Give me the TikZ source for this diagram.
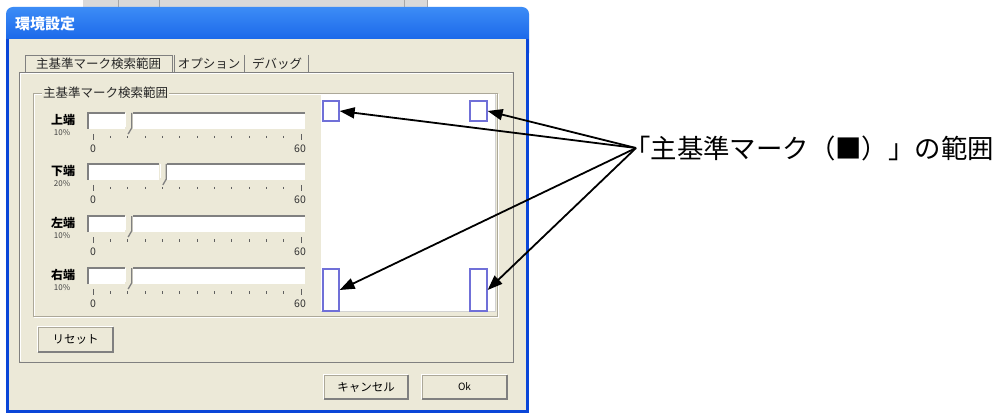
\documentclass[tikz,border=0pt]{standalone}
\usepackage{fontspec}
\newfontfamily\jp{Noto Sans CJK JP}
\usetikzlibrary{arrows.meta,calc}
\definecolor{beige}{HTML}{ECE9D8}
\definecolor{xpblue}{HTML}{0A46D8}
\definecolor{titletop}{HTML}{3C8CF6}
\definecolor{titlebot}{HTML}{0652E2}
\definecolor{markblue}{HTML}{7070D8}
\definecolor{dgray}{HTML}{808080}
\definecolor{lgray}{HTML}{ACA899}
\definecolor{tickgray}{HTML}{606060}
\tikzset{
  uitext/.style={inner sep=0pt, font=\jp\fontsize{12.5}{14}\selectfont, text=black},
  titletext/.style={inner sep=0pt, anchor=west, font=\jp\bfseries\fontsize{15}{17}\selectfont, text=white},
  tabtext/.style={inner sep=0pt, font=\jp\fontsize{12.5}{14}\selectfont, text=black!85},
  rowlabel/.style={inner sep=0pt, font=\jp\bfseries\fontsize{12}{13}\selectfont, text=black},
  pcttext/.style={inner sep=0pt, font=\jp\fontsize{8}{9}\selectfont, text=black!75},
  scaletext/.style={inner sep=0pt, font=\jp\fontsize{10.5}{12}\selectfont, text=black!80},
  markbox/.style={draw=markblue, line width=1.3pt, fill=white, inner sep=0pt},
  btn/.style={fill=beige, draw=lgray, inner sep=0pt, font=\jp\fontsize{11.5}{13}\selectfont},
  arr/.style={line width=1.8pt, -{Triangle[length=15pt,width=11pt]}},
  anno/.style={inner sep=0pt, font=\jp\fontsize{26.4}{30}\selectfont, text=black},
}
\begin{document}
\begin{tikzpicture}[x=1pt,y=-1pt]
\useasboundingbox (0,0) rectangle (995,414);
\fill[white] (0,0) rectangle (995,414);
% remnant of a window behind
\fill[gray!30] (83,0) rectangle (428,7);
\foreach \xx in {118,159,404,427} \draw[gray!70] (\xx,0) -- (\xx,7);

% window frame
\shade[top color=titletop, bottom color=titlebot, rounded corners=7pt] (6,7) rectangle (529,60);
\fill[xpblue] (6,39) rectangle (529,413);
\fill[beige] (9,39) rectangle (526,410);
\node[titletext] (title) at (15,24) {環境設定};

% tab pane
\draw[dgray, fill=beige] (19,72) rectangle (513,362);
\draw[white] (20,73) -- (512,73);
\draw[white] (20,73) -- (20,361);
\node[draw=dgray, fill=beige, minimum width=147pt, minimum height=17pt, inner sep=0pt] (tabbox) at (98.5,63.5) {};
\node[tabtext] (tab1) at (tabbox.center) {主基準マーク検索範囲};
\draw[dgray, line width=1pt] (174,55) -- (174,72);
\node[tabtext] (tab2) at (209,63.5) {オプション};
\draw[dgray, line width=1pt] (244,55) -- (244,72);
\node[tabtext] (tab3) at (277,63.5) {デバッグ};
\draw[dgray, line width=1pt] (308,55) -- (308,72);

% group box
\draw[white] (34,94) rectangle (498,317);
\draw[lgray] (33,93) rectangle (497,316);
\node[tabtext, fill=beige, inner xsep=1pt, anchor=west] (grp) at (42,92.5) {主基準マーク検索範囲};

% preview panel
\fill[white] (321,94) rectangle (495,311);
\draw[gray!35] (495,94) -- (495,311) -- (321,311);
\node[markbox, minimum width=16pt, minimum height=20pt] (sqTL) at (331,111) {};
\node[markbox, minimum width=17pt, minimum height=20pt] (sqTR) at (478.5,111) {};
\node[markbox, minimum width=16pt, minimum height=42pt] (sqBL) at (331,290) {};
\node[markbox, minimum width=17pt, minimum height=42pt] (sqBR) at (478.5,290) {};

% slider rows
\foreach \T/\lab/\pct/\val/\nm in {113/上端/10\%/10/a, 164/下端/20\%/20/b, 216/左端/10\%/10/c, 268/右端/10\%/10/d}{
  \node[rowlabel] (lab\nm) at (63,\T+7) {\lab};
  \node[pcttext] (pct\nm) at (62,\T+19.5) {\pct};
  \fill[white] (88,\T) rectangle (305,\T+16);
  \draw[dgray, line width=1.6pt] (88,\T+16) -- (88,\T) -- (305,\T);
  \pgfmathsetmacro{\tx}{93+\val*208/60}
  \fill[beige] (\tx-3,\T-1) rectangle (\tx+5,\T+16.5);
  \draw[white, line width=1pt] (\tx-2,\T) -- (\tx-2,\T+14);
  \draw[dgray, line width=1.3pt] (\tx+4,\T) -- (\tx+4,\T+15) -- (\tx+0.5,\T+21);
  \foreach \i in {1,...,11}{
    \draw[tickgray, line width=1pt] (93+\i*17.333,\T+23) -- (93+\i*17.333,\T+25.5);
  }
  \draw[tickgray, line width=1pt] (93,\T+21) -- (93,\T+27);
  \draw[tickgray, line width=1pt] (301,\T+21) -- (301,\T+27);
  \node[scaletext] (min\nm) at (93,\T+35.5) {0};
  \node[scaletext] (max\nm) at (300,\T+35.5) {60};
}

% buttons
\node[btn, minimum width=75pt, minimum height=25pt] (reset) at (75.5,339.5) {リセット};
\node[btn, minimum width=84pt, minimum height=24pt] (cancel) at (366,387) {キャンセル};
\node[btn, minimum width=85pt, minimum height=24pt, font=\jp\fontsize{10}{12}\selectfont] (ok) at (464.5,387) {Ok};
\foreach \b in {reset,cancel,ok}{
  \draw[white, line width=1pt] (\b.south west) -- (\b.north west) -- (\b.north east);
  \draw[dgray, line width=1.6pt] (\b.north east) -- (\b.south east) -- (\b.south west);
}

% annotation
\node[anno, anchor=west] (lbl) at (624,148) {「主基準マーク（■）」の範囲};
\coordinate (src) at (636,148);
\draw[arr] (src) -- (sqTL.east);
\draw[arr] (src) -- (sqTR.east);
\draw[arr] (src) -- (sqBL.east);
\draw[arr] (src) -- (sqBR.east);
\end{tikzpicture}
\end{document}
